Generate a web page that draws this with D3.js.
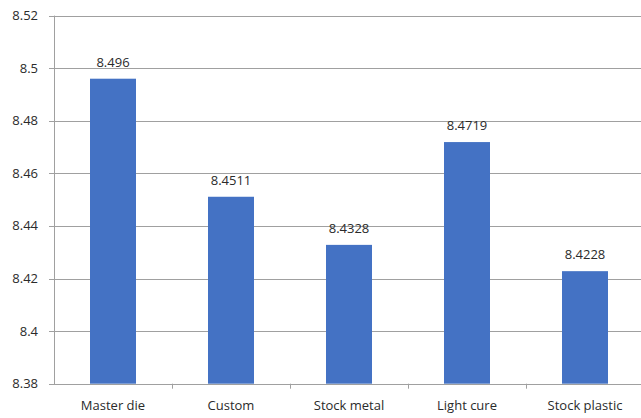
<!DOCTYPE html>
<html>
<head>
<meta charset="utf-8">
<script src="https://cdn.jsdelivr.net/npm/d3@7"></script>
<style>
  html, body { margin: 0; padding: 0; background: #fff; }
  svg { display: block; }
  text { font-family: "Open Sans", "Liberation Sans", sans-serif; fill: #2b2b2b; }
</style>
</head>
<body>
<svg id="chart" width="641" height="418"></svg>
<script>
const categories = ["Master die", "Custom", "Stock metal", "Light cure", "Stock plastic"];
const values = [8.496, 8.4511, 8.4328, 8.4719, 8.4228];
const labels = ["8.496", "8.4511", "8.4328", "8.4719", "8.4228"];
const yTicks = [8.38, 8.4, 8.42, 8.44, 8.46, 8.48, 8.5, 8.52];
const yTickLabels = ["8.38", "8.4", "8.42", "8.44", "8.46", "8.48", "8.5", "8.52"];

const svg = d3.select("#chart");
const plotLeft = 54, plotRight = 644, plotTop = 15.6, plotBottom = 383.7;

const x = d3.scaleBand().domain(categories).range([plotLeft, plotRight]).paddingInner(0).paddingOuter(0);
const y = d3.scaleLinear().domain([8.38, 8.52]).range([plotBottom, plotTop]);

const barW = 46;
const gridColor = "#a0a0a0";

// horizontal gridlines with small outward ticks
svg.append("g").selectAll("line").data(yTicks).join("line")
  .attr("x1", plotLeft - 5).attr("x2", 641)
  .attr("y1", d => Math.round(y(d)) + 0.5).attr("y2", d => Math.round(y(d)) + 0.5)
  .attr("stroke", gridColor).attr("stroke-width", 1);

// y tick labels
svg.append("g").selectAll("text").data(yTicks).join("text")
  .attr("x", 38).attr("y", d => y(d)).attr("dy", "0.35em")
  .attr("text-anchor", "end").attr("font-size", 13)
  .text((d, i) => yTickLabels[i]);

// vertical axis line
svg.append("line")
  .attr("x1", plotLeft + 0.5).attr("x2", plotLeft + 0.5)
  .attr("y1", plotTop).attr("y2", plotBottom + 0.5)
  .attr("stroke", gridColor);

// category boundary ticks on x axis
const bounds = categories.map(c => x(c)).concat([x(categories[4]) + x.bandwidth()]);
svg.append("g").selectAll("line").data(bounds.slice(1, 5)).join("line")
  .attr("x1", d => Math.round(d) + 0.5).attr("x2", d => Math.round(d) + 0.5)
  .attr("y1", plotBottom).attr("y2", plotBottom + 5)
  .attr("stroke", gridColor);

// bars
svg.append("g").selectAll("rect").data(values).join("rect")
  .attr("x", (d, i) => x(categories[i]) + x.bandwidth() / 2 - barW / 2)
  .attr("width", barW)
  .attr("y", d => y(d))
  .attr("height", d => y(8.38) - y(d))
  .attr("fill", "#4472c4");

// value labels
svg.append("g").selectAll("text").data(values).join("text")
  .attr("x", (d, i) => x(categories[i]) + x.bandwidth() / 2)
  .attr("y", d => y(d) - 12)
  .attr("text-anchor", "middle").attr("font-size", 13)
  .text((d, i) => labels[i]);

// category labels
svg.append("g").selectAll("text").data(categories).join("text")
  .attr("x", d => x(d) + x.bandwidth() / 2)
  .attr("y", 410)
  .attr("text-anchor", "middle").attr("font-size", 13)
  .text(d => d);
</script>
</body>
</html>
